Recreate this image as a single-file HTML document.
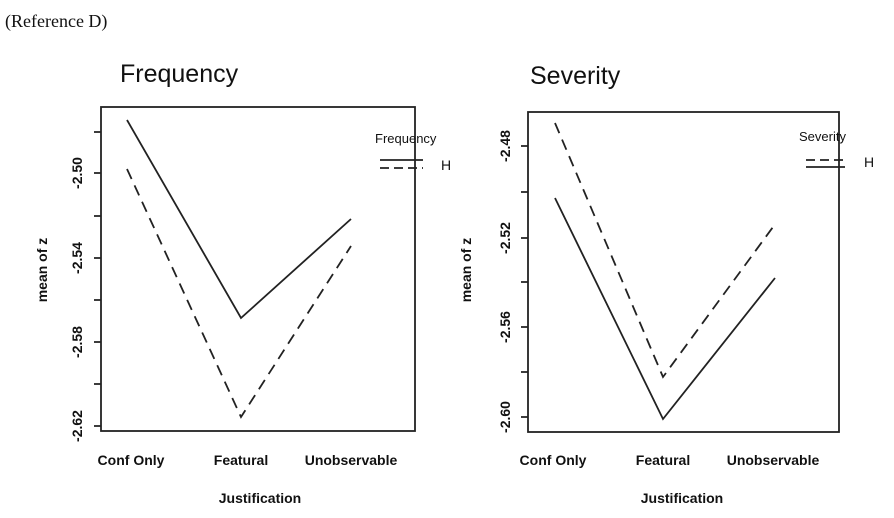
<!DOCTYPE html>
<html><head><style>body{margin:0;background:#fff}</style></head><body>
<svg width="894" height="513" xmlns="http://www.w3.org/2000/svg" font-family="Liberation Sans, sans-serif" fill="#111">
<text x="5" y="27" font-family="Liberation Serif, serif" font-size="18">(Reference D)</text>
<g stroke="#222" stroke-width="1.8" fill="none">
<rect x="101" y="107" width="314" height="324"/>
<rect x="528" y="112" width="311" height="320"/>
<path d="M94 132H101M94 173H101M94 216H101M94 258H101M94 300H101M94 342H101M94 384H101M94 426H101"/>
<path d="M521 146H528M521 192H528M521 238H528M521 282H528M521 327H528M521 372H528M521 417H528"/>
<path d="M127 120L241 318L351 219"/>
<path d="M127 169L241 417L351 246" stroke-dasharray="11,7"/>
<path d="M555 123L663 377L773 227" stroke-dasharray="11,7"/>
<path d="M555 198L663 419L775 278"/>
<path d="M380 160H423"/><path d="M380 168H423" stroke-dasharray="9,5"/>
<path d="M806 160H845" stroke-dasharray="9,5"/><path d="M806 167H845"/>
</g>
<text x="120" y="82" font-size="25">Frequency</text>
<text x="530" y="84" font-size="25">Severity</text>
<text x="375" y="143" font-size="13">Frequency</text>
<text x="441" y="170" font-size="14">H</text>
<text x="799" y="141" font-size="13">Severity</text>
<text x="864" y="167" font-size="14">H</text>
<g font-size="14" text-anchor="middle" font-weight="bold">
<text transform="translate(82,173) rotate(-90)">-2.50</text>
<text transform="translate(82,258) rotate(-90)">-2.54</text>
<text transform="translate(82,342) rotate(-90)">-2.58</text>
<text transform="translate(82,426) rotate(-90)">-2.62</text>
<text transform="translate(510,146) rotate(-90)">-2.48</text>
<text transform="translate(510,238) rotate(-90)">-2.52</text>
<text transform="translate(510,327) rotate(-90)">-2.56</text>
<text transform="translate(510,417) rotate(-90)">-2.60</text>
<text transform="translate(47,270) rotate(-90)">mean of  z</text>
<text transform="translate(471,270) rotate(-90)">mean of  z</text>
<text x="131" y="465">Conf Only</text>
<text x="241" y="465">Featural</text>
<text x="351" y="465">Unobservable</text>
<text x="553" y="465">Conf Only</text>
<text x="663" y="465">Featural</text>
<text x="773" y="465">Unobservable</text>
<text x="260" y="503">Justification</text>
<text x="682" y="503">Justification</text>
</g>
</svg>
</body></html>
